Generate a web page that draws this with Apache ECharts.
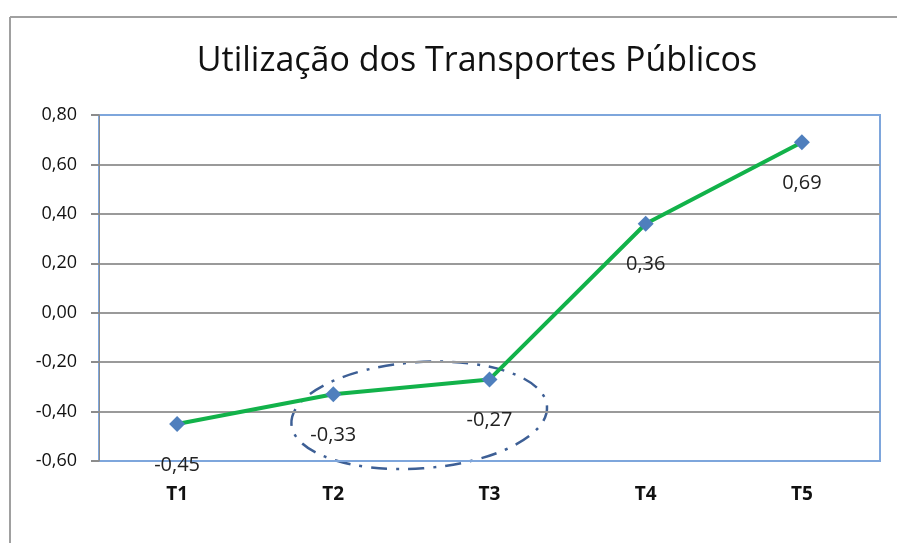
<!DOCTYPE html>
<html>
<head>
<meta charset="utf-8">
<script src="https://cdn.jsdelivr.net/npm/echarts@6/dist/echarts.min.js"></script>
<style>
  html, body { margin: 0; padding: 0; background: #fff; }
  #chart { width: 897px; height: 543px; }
</style>
</head>
<body>
<div id="chart"></div>
<script>
// dados
const categories = ['T1', 'T2', 'T3', 'T4', 'T5']
const values = [-0.45, -0.33, -0.27, 0.36, 0.69]
const yTicks = { min: -0.6, max: 0.8, step: 0.2 }

const fmt = v => v.toFixed(2).replace('.', ',')

const chart = echarts.init(document.getElementById('chart'))

chart.setOption({
  animation: false,
  title: {
    text: 'Utilização dos Transportes Públicos',
    left: 472,
    textAlign: 'center',
    top: 39,
    textStyle: {
      fontFamily: 'Open Sans',
      fontSize: 34,
      fontWeight: 'normal',
      color: '#111'
    }
  },
  grid: {
    left: 99,
    right: 17,
    top: 115,
    bottom: 82,
    show: true,
    borderColor: '#7ea6dc',
    borderWidth: 2
  },
  xAxis: {
    type: 'category',
    data: categories,
    boundaryGap: true,
    axisLine: { show: false },
    axisTick: { show: false },
    axisLabel: {
      margin: 24,
      fontFamily: 'Open Sans',
      fontSize: 19,
      fontWeight: 'bold',
      color: '#111'
    }
  },
  yAxis: {
    type: 'value',
    min: yTicks.min,
    max: yTicks.max,
    interval: yTicks.step,
    axisLine: { show: true, lineStyle: { color: '#8c8c8c', width: 1 } },
    axisTick: { show: true, length: 8, lineStyle: { color: '#8c8c8c', width: 2 } },
    axisLabel: {
      margin: 22,
      fontFamily: 'Open Sans',
      fontSize: 18,
      color: '#111',
      formatter: fmt
    },
    splitLine: {
      show: true,
      lineStyle: {
        color: ['#7ea6dc', '#9a9a9a', '#9a9a9a', '#9a9a9a', '#9a9a9a', '#9a9a9a', '#9a9a9a', '#7ea6dc'],
        width: 2
      }
    }
  },
  series: [
    {
      type: 'line',
      data: values,
      symbol: 'diamond',
      symbolSize: 16,
      itemStyle: { color: '#4f7fbd' },
      lineStyle: { color: '#12b24a', width: 4 },
      label: {
        show: true,
        position: 'bottom',
        distance: 23,
        fontFamily: 'Open Sans',
        fontSize: 20,
        color: '#222',
        formatter: p => fmt(p.value)
      }
    }
  ],
  graphic: [
    {
      type: 'line',
      shape: { x1: 10, y1: 17, x2: 897, y2: 17 },
      style: { stroke: '#a0a0a0', lineWidth: 2 }
    },
    {
      type: 'line',
      shape: { x1: 10, y1: 17, x2: 10, y2: 543 },
      style: { stroke: '#a0a0a0', lineWidth: 2 }
    }
  ]
})

// elipse tracejada em volta de T2 e T3, posicionada pela escala
const p2 = chart.convertToPixel({ seriesIndex: 0 }, [1, -0.415])
const p3 = chart.convertToPixel({ seriesIndex: 0 }, [2, -0.2])
const band = p3[0] - p2[0]
chart.setOption({
  graphic: [
    {},
    {},
    {
      type: 'ellipse',
      x: p2[0] + 0.55 * band,
      y: p2[1],
      rotation: 0.07,
      shape: { cx: 0, cy: 0, rx: 0.82 * band, ry: Math.abs(p2[1] - p3[1]) },
      style: { fill: 'none', stroke: '#3d5f95', lineWidth: 2.5, lineDash: [16, 9, 3, 9] }
    }
  ]
})
</script>
</body>
</html>
